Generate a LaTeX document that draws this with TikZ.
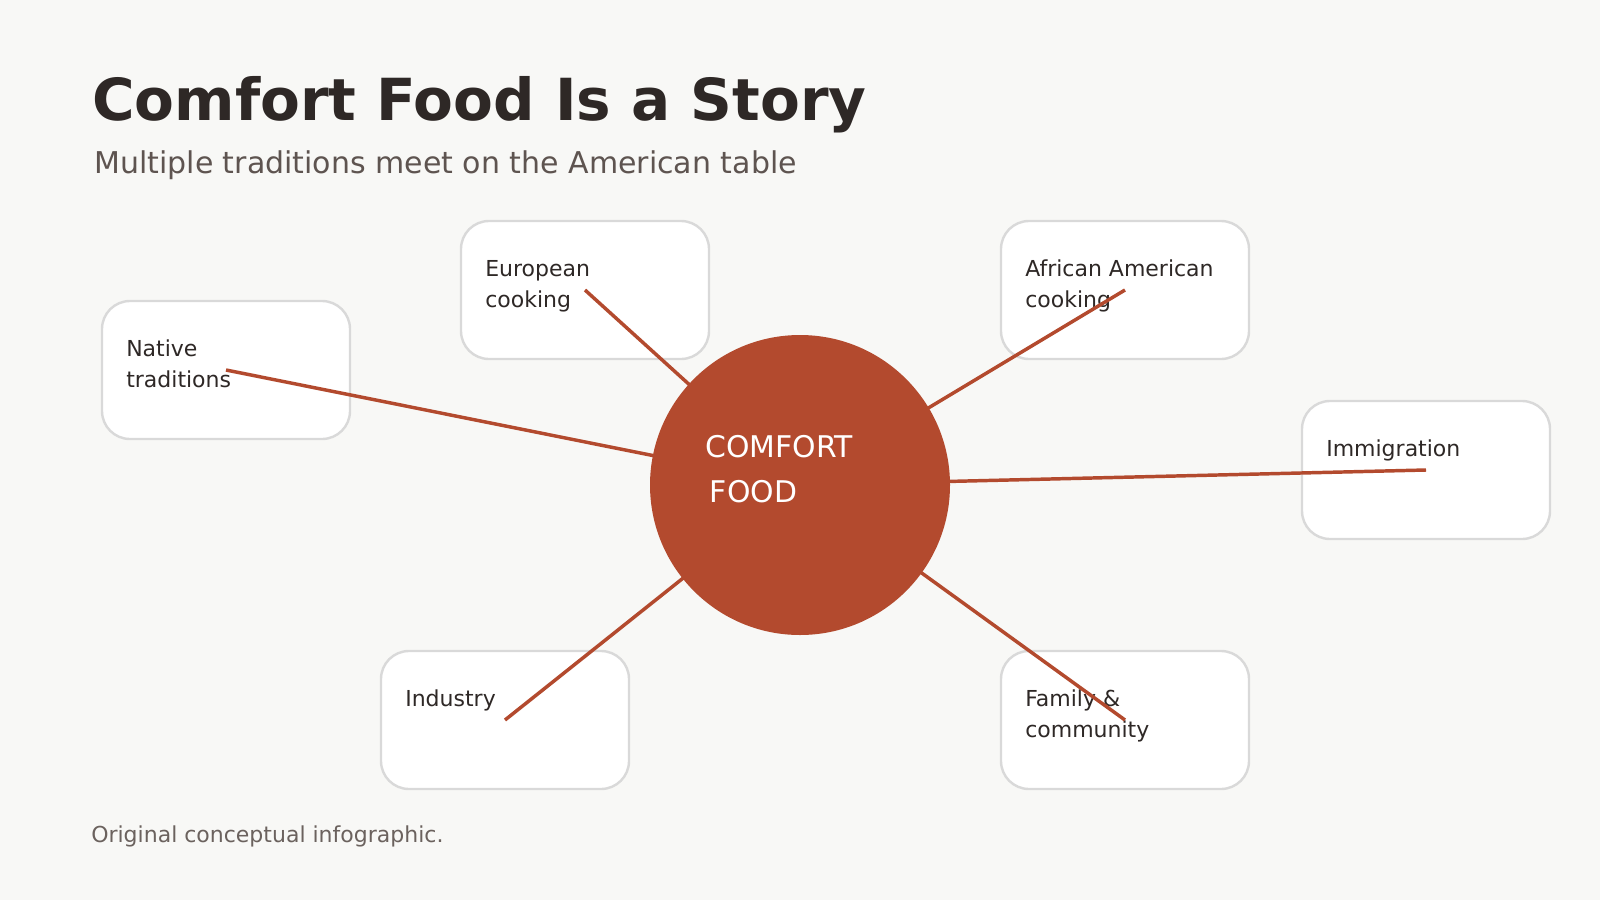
\documentclass[tikz,border=0pt]{standalone}
\usepackage{fontspec}
\setmainfont{DejaVu Sans}
\usetikzlibrary{positioning}

\definecolor{paper}{HTML}{F8F8F6}
\definecolor{ink}{HTML}{2E2826}
\definecolor{softink}{HTML}{5E5450}
\definecolor{noteink}{HTML}{6B625E}
\definecolor{rust}{HTML}{B34A2E}
\definecolor{rim}{HTML}{D9D9D9}

\begin{document}
\begin{tikzpicture}[x=0.75pt, y=-0.75pt,
  card/.style={draw=rim, line width=1.8pt, fill=white, rounded corners=21pt,
    minimum width=186pt, minimum height=103.5pt, inner sep=0pt},
  cardtext/.style={anchor=base west, inner sep=0pt, align=left, text=ink,
    font=\fontsize{16.5}{23.25}\selectfont},
  spoke/.style={draw=rust, line width=2.6pt}]
\fill [paper] (0,0) rectangle (1600,900);
\useasboundingbox (0,0) rectangle (1600,900);

%heading
\node[anchor=base west, inner sep=0pt, text=ink, font=\fontsize{43.5}{52}\selectfont\bfseries] (title) at (92,120) {Comfort Food Is a Story};
\node[anchor=base west, inner sep=0pt, text=softink, font=\fontsize{22.5}{27}\selectfont] (subtitle) at (94,173) {Multiple traditions meet on the American table};

%cards
\node[card] (native) at (226,370) {};
\node[card] (european) at (585,290) {};
\node[card] (african) at (1125,290) {};
\node[card] (immig) at (1426,470) {};
\node[card] (industry) at (505,720) {};
\node[card] (family) at (1125,720) {};

\node[cardtext] (nativetxt) at (126,387) {Native\\traditions};
\node[cardtext] (europeantxt) at (485,307) {European\\cooking};
\node[cardtext] (africantxt) at (1025,307) {African American\\cooking};
\node[cardtext] (immigtxt) at (1326,456) {Immigration};
\node[cardtext] (industrytxt) at (405,706) {Industry};
\node[cardtext] (familytxt) at (1025,737) {Family \&\\community};

%spokes
\coordinate (hub) at (800,485);
\draw[spoke] (hub) -- (native.center);
\draw[spoke] (hub) -- (european.center);
\draw[spoke] (hub) -- (african.center);
\draw[spoke] (hub) -- (immig.center);
\draw[spoke] (hub) -- (industry.center);
\draw[spoke] (hub) -- (family.center);

%center
\node[circle, fill=rust, minimum size=225pt, inner sep=0pt] (core) at (hub) {};
\node[anchor=base west, inner sep=0pt, align=left, text=white,
  font=\fontsize{22.4}{33.75}\selectfont] (coretxt) at (705,502) {COMFORT\\\hspace*{3.5pt}FOOD};

%note
\node[anchor=base west, inner sep=0pt, text=noteink, font=\fontsize{16.5}{20}\selectfont] (note) at (91,842) {Original conceptual infographic.};
\end{tikzpicture}
\end{document}
